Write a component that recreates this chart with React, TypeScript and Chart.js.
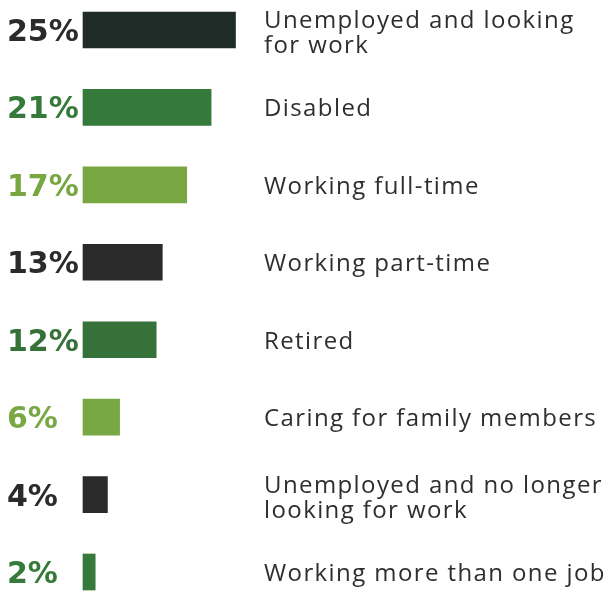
import React, { useEffect, useRef } from "react";
import { Chart, registerables } from "chart.js";

Chart.register(...registerables);

const categories: string[] = [
  "Unemployed and looking\nfor work",
  "Disabled",
  "Working full-time",
  "Working part-time",
  "Retired",
  "Caring for family members",
  "Unemployed and no longer\nlooking for work",
  "Working more than one job",
];
const values: number[] = [25, 21, 17, 13, 12, 6, 4, 2];
const barColors: string[] = ["#1f2b27", "#357a3a", "#78a742", "#2a2a2a", "#367139", "#78a843", "#2a2a2a", "#357a3a"];
const pctColors: string[] = ["#2b2b2b", "#357a3a", "#78a742", "#2b2b2b", "#367139", "#78a843", "#2b2b2b", "#357a3a"];

const labelPlugin = {
  id: "sideLabels",
  afterDatasetsDraw(chart: any) {
    const ctx = chart.ctx;
    const meta = chart.getDatasetMeta(0);
    ctx.save();
    meta.data.forEach((bar: any, i: number) => {
      const cy = bar.y;
      ctx.font = "bold 30px 'DejaVu Sans'";
      ctx.fillStyle = pctColors[i];
      ctx.textAlign = "left";
      ctx.textBaseline = "alphabetic";
      (ctx as any).letterSpacing = "0px";
      ctx.fillText(values[i] + "%", 7, cy + 11);

      ctx.font = "24px 'Open Sans'";
      (ctx as any).letterSpacing = "1.4px";
      ctx.fillStyle = "#2e2e2e";
      const lines = categories[i].split("\n");
      if (lines.length === 1) {
        ctx.fillText(lines[0], 264, cy + 9);
      } else {
        ctx.fillText(lines[0], 264, cy - 2);
        ctx.fillText(lines[1], 264, cy + 23);
      }
    });
    ctx.restore();
  },
};

export default function App() {
  const ref = useRef<HTMLCanvasElement | null>(null);
  useEffect(() => {
    document.body.style.margin = "0";
    const chart = new Chart(ref.current as HTMLCanvasElement, {
      type: "bar",
      data: {
        labels: categories,
        datasets: [
          {
            data: values,
            backgroundColor: barColors,
            barThickness: 36,
            borderWidth: 0,
            clip: false as any,
          },
        ],
      },
      options: {
        indexAxis: "y",
        animation: false,
        responsive: false,
        devicePixelRatio: 1,
        layout: { padding: { left: 83, right: 225, top: 30, bottom: 19 } },
        plugins: { legend: { display: false }, tooltip: { enabled: false } },
        scales: {
          x: { display: false, min: 0, max: 50 },
          y: { display: false, offset: false },
        },
      },
      plugins: [labelPlugin],
    });
    return () => chart.destroy();
  }, []);
  return (
    <div style={{ width: 613, height: 591, background: "#fff" }}>
      <canvas ref={ref} width={613} height={591} />
    </div>
  );
}
